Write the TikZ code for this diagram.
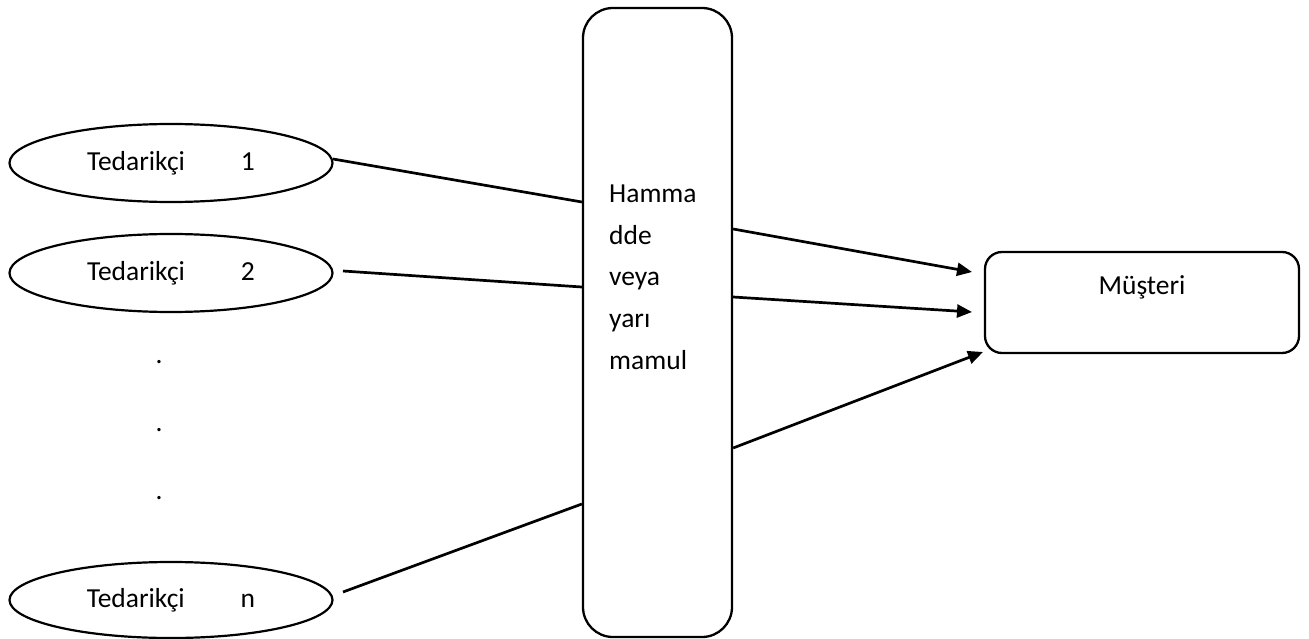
\documentclass[tikz,border=0pt]{standalone}
\usepackage{fontspec}
\setmainfont{Carlito}
\usetikzlibrary{shapes.geometric,arrows.meta}
\tikzset{
  lbl/.style={font=\fontsize{27.5}{41.7}\selectfont},
  supplier/.style={ellipse, draw, line width=2.2pt, minimum width=323pt, minimum height=78pt, inner sep=0pt, lbl},
  bigbox/.style={draw, line width=2.3pt, rounded corners=30pt, minimum width=149pt, minimum height=629pt, inner sep=0pt},
  custbox/.style={draw, line width=2.3pt, rounded corners=17pt, minimum width=314pt, minimum height=101pt, inner sep=0pt},
  conn/.style={line width=2.7pt},
  arr/.style={line width=2.7pt, -{Triangle[length=15pt,width=13pt]}},
  dotlbl/.style={lbl, anchor=base, inner sep=0pt}
}
\begin{document}
\begin{tikzpicture}[x=1pt,y=-1pt]
\useasboundingbox (0,0) rectangle (1309,639);
% suppliers
\node[supplier] (E1) at (171,163) {Tedarikçi\hspace{56pt}1};
\node[supplier] (E2) at (171,273) {Tedarikçi\hspace{56pt}2};
\node[supplier, minimum height=76pt] (En) at (171,600) {Tedarikçi\hspace{56pt}n};
% dots
\node[dotlbl] (d1) at (159,363) {.};
\node[dotlbl] (d2) at (159,431) {.};
\node[dotlbl] (d3) at (159,499) {.};
% raw material box
\node[bigbox] (R) at (657.5,322.5) {};
\node[lbl, anchor=north west, align=left, inner sep=0pt] (Rt) at (609,184.5) {Hamma\\dde\\veya\\yarı\\mamul};
% customer
\node[custbox] (M) at (1142,302.5) {};
\node[lbl] (Mt) at (1142,287) {Müşteri};
% free ends
\coordinate (s1) at (333,159);
\coordinate (s2) at (343,271);
\coordinate (sn) at (343,592);
\coordinate (t1) at (972,272);
\coordinate (t2) at (972,312);
\coordinate (t3) at (983,352);
% connectors
\draw[conn] (s1) -- (R.west |- 0,202);
\draw[conn] (s2) -- (R.west |- 0,287);
\draw[conn] (sn) -- (R.west |- 0,504);
\draw[arr] (R.east |- 0,229) -- (t1);
\draw[arr] (R.east |- 0,297) -- (t2);
\draw[arr] (R.east |- 0,448) -- (t3);
\end{tikzpicture}
\end{document}
